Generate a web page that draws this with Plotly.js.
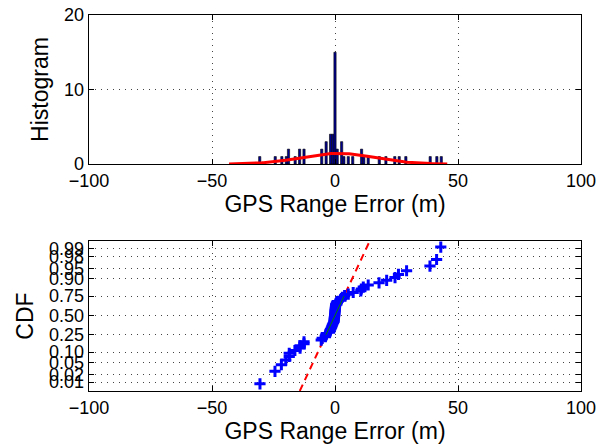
<!DOCTYPE html>
<html>
<head>
<meta charset="utf-8">
<script src="https://cdn.plot.ly/plotly-3.0.1.min.js"></script>
<style>html,body{margin:0;padding:0;background:#fff;}#chart{width:600px;height:447px;}</style>
</head>
<body>
<div id="chart"></div>
<script>
var errorsLeft = [-30.5, -24.4, -21.8, -20.0, -18.6, -18.6, -16.3, -14.2, -14.2, -12.6, -12.6];
var errorsCenter = [-5.6, -5.2, -3.9, -3.7, -3.5, -2.2, -2.0, -1.8, -1.5, -1.3, -1.1, -0.9, -0.6,
  -0.4, -0.35, -0.3, -0.25, -0.2, -0.15, -0.1, -0.05, 0.0, 0.05, 0.1, 0.15, 0.2, 0.25, 0.3,
  0.6, 0.9, 2.4, 2.6, 3.0, 3.9, 5.4, 7.4];
var errorsRight = [10.5, 10.7, 11.5, 13.5, 17.9, 21.0, 24.4, 25.8, 29.1, 38.6, 41.3, 43.0];
var binSize = 0.9;
var xTicks = [-100, -50, 0, 50, 100];
var histTicks = [0, 10, 20];
var probTicks = [0.01, 0.02, 0.05, 0.10, 0.25, 0.50, 0.75, 0.90, 0.95, 0.98, 0.99];
var probTickText = ['0.01', '0.02', '0.05', '0.10', '0.25', '0.50', '0.75', '0.90', '0.95', '0.98', '0.99'];

function norminv(p) {
  var a = [-3.969683028665376e+01, 2.209460984245205e+02, -2.759285104469687e+02, 1.383577518672690e+02, -3.066479806614716e+01, 2.506628277459239e+00];
  var b = [-5.447609879822406e+01, 1.615858368580409e+02, -1.556989798598866e+02, 6.680131188771972e+01, -1.328068155288572e+01];
  var c = [-7.784894002430293e-03, -3.223964580411365e-01, -2.400758277161838e+00, -2.549732539343734e+00, 4.374664141464968e+00, 2.938163982698783e+00];
  var d = [7.784695709041462e-03, 3.224671290700398e-01, 2.445134137142996e+00, 3.754408661907416e+00];
  var pl = 0.02425, q, r;
  if (p < pl) {
    q = Math.sqrt(-2 * Math.log(p));
    return (((((c[0]*q+c[1])*q+c[2])*q+c[3])*q+c[4])*q+c[5]) / ((((d[0]*q+d[1])*q+d[2])*q+d[3])*q+1);
  } else if (p <= 1 - pl) {
    q = p - 0.5; r = q * q;
    return (((((a[0]*r+a[1])*r+a[2])*r+a[3])*r+a[4])*r+a[5])*q / (((((b[0]*r+b[1])*r+b[2])*r+b[3])*r+b[4])*r+1);
  } else {
    q = Math.sqrt(-2 * Math.log(1 - p));
    return -(((((c[0]*q+c[1])*q+c[2])*q+c[3])*q+c[4])*q+c[5]) / ((((d[0]*q+d[1])*q+d[2])*q+d[3])*q+1);
  }
}

var errors = errorsLeft.concat(errorsCenter, errorsRight).slice().sort(function (a, b) { return a - b; });
var n = errors.length;

// normal fit for histfit
var mean = errors.reduce(function (s, v) { return s + v; }, 0) / n;
var sd = Math.sqrt(errors.reduce(function (s, v) { return s + (v - mean) * (v - mean); }, 0) / (n - 1));
var fitX = [], fitY = [];
for (var k = 0; k <= 120; k++) {
  var xv = mean - 3 * sd + 6 * sd * k / 120;
  fitX.push(xv);
  fitY.push(n * binSize * Math.exp(-0.5 * Math.pow((xv - mean) / sd, 2)) / (sd * Math.sqrt(2 * Math.PI)));
}

// normal probability plot positions
var zPos = errors.map(function (v, i) { return norminv((i + 0.5) / n); });
function prctile(p) {
  var pos = p * n + 0.5;
  var lo = Math.floor(pos), frac = pos - lo;
  return errors[lo - 1] + frac * (errors[lo] - errors[lo - 1]);
}
var q1 = prctile(0.25), q3 = prctile(0.75);
var zq = norminv(0.75);
var slope = (q3 - q1) / (2 * zq);
var mid = (q1 + q3) / 2;
var yRange2 = [-2.64, 2.60];
var refLineZ = [yRange2[0], yRange2[1]];
var refLineX = refLineZ.map(function (z) { return mid + slope * z; });

var font = 'Liberation Sans, Arial, Helvetica, sans-serif';
var axisCommon = {
  showline: true, linecolor: '#000', linewidth: 1.3, mirror: 'ticks',
  ticks: 'inside', ticklen: 5, tickcolor: '#000', tickwidth: 1,
  showgrid: true, gridcolor: '#444', griddash: '1px,5px', gridwidth: 1,
  zeroline: false, tickfont: { family: font, size: 18, color: '#000' }
};
function ax(extra) { return Object.assign({}, axisCommon, extra); }
var titleFont = { family: font, size: 23, color: '#000' };

var traces = [
  {
    type: 'histogram', x: errors, xaxis: 'x', yaxis: 'y',
    xbins: { start: -0.45 - 40 * binSize, end: 0.45 + 60 * binSize, size: binSize },
    marker: { color: '#00008f', line: { color: '#000', width: 0.6 } },
    hoverinfo: 'skip'
  },
  {
    type: 'scatter', mode: 'lines', x: fitX, y: fitY, xaxis: 'x', yaxis: 'y',
    line: { color: '#ff0000', width: 3 }
  },
  {
    type: 'scatter', mode: 'lines', x: refLineX, y: refLineZ, xaxis: 'x2', yaxis: 'y2',
    line: { color: '#ff0000', width: 2, dash: '7px,5px' }
  },
  {
    type: 'scatter', mode: 'markers', x: errors, y: zPos, xaxis: 'x2', yaxis: 'y2',
    marker: { symbol: 'cross-thin', size: 8, color: '#0000ff', line: { color: '#0000ff', width: 3 } }
  },
  {
    type: 'scatter', mode: 'lines', x: [q1, q3], y: [-zq, zq], xaxis: 'x2', yaxis: 'y2',
    line: { color: '#008000', width: 1 }
  }
];

var layout = {
  width: 600, height: 447,
  margin: { l: 89, r: 19, t: 15, b: 56 },
  paper_bgcolor: '#fff', plot_bgcolor: '#fff',
  showlegend: false, bargap: 0,
  font: { family: font, color: '#000' },
  xaxis: ax({ domain: [0, 1], anchor: 'y', range: [-100, 100], tickvals: xTicks,
    title: { text: 'GPS Range Error (m)', font: titleFont, standoff: 1 } }),
  yaxis: ax({ domain: [0.6037, 1], anchor: 'x', range: [0, 20], tickvals: histTicks,
    title: { text: 'Histogram', font: titleFont, standoff: 9 } }),
  xaxis2: ax({ domain: [0, 1], anchor: 'y2', range: [-100, 100], tickvals: xTicks,
    title: { text: 'GPS Range Error (m)', font: titleFont, standoff: 1 } }),
  yaxis2: ax({ domain: [0, 0.399], anchor: 'x2', range: yRange2,
    tickvals: probTicks.map(norminv), ticktext: probTickText,
    title: { text: 'CDF', font: titleFont, standoff: 9 } })
};

Plotly.newPlot('chart', traces, layout, { displayModeBar: false, staticPlot: true });
</script>
</body>
</html>
